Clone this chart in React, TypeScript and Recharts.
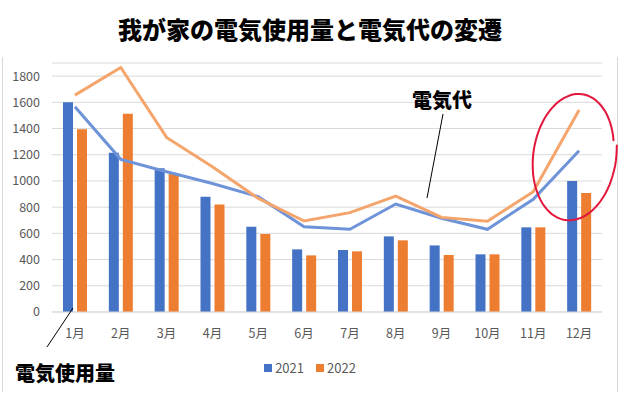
import { ComposedChart, Bar, Line, XAxis, YAxis, CartesianGrid, Legend } from 'recharts'

const MONTHS = ['1月', '2月', '3月', '4月', '5月', '6月', '7月', '8月', '9月', '10月', '11月', '12月']

// 電気使用量 (kWh)
const USAGE_2021 = [1600, 1215, 1096, 880, 651, 478, 473, 577, 508, 440, 646, 1000]
const USAGE_2022 = [1395, 1513, 1055, 821, 595, 432, 463, 547, 435, 440, 646, 908]

// 電気代
const COST_2021 = [1566, 1165, 1070, 981, 880, 651, 631, 824, 715, 631, 860, 1231]
const COST_2022 = [1655, 1866, 1332, 1108, 867, 694, 758, 885, 722, 692, 918, 1541]

const Y_TICKS = [0, 200, 400, 600, 800, 1000, 1200, 1400, 1600, 1800]

const FONT = '"Noto Sans CJK JP", "Noto Sans", sans-serif'
const GRAY = '#595959'

const chartData = MONTHS.map((month, i) => ({
  month,
  usage2021: USAGE_2021[i],
  usage2022: USAGE_2022[i],
  cost2021: COST_2021[i],
  cost2022: COST_2022[i],
}))

// 手書き風の赤い丸（少し渦を巻いて閉じきらない）
function circlePath() {
  const cx = 574
  const cy = 156
  const rx = 41
  const ry = 64
  const rot = (8 * Math.PI) / 180
  const pts: string[] = []
  const steps = 80
  const start = -0.25
  const end = 2 * Math.PI - 0.35
  for (let k = 0; k <= steps; k++) {
    const t = start + ((end - start) * k) / steps
    const f = 1.03 - (0.07 * k) / steps
    const ex = rx * f * Math.cos(t)
    const ey = ry * f * Math.sin(t)
    const x = cx + ex * Math.cos(rot) - ey * Math.sin(rot)
    const y = cy + ex * Math.sin(rot) + ey * Math.cos(rot)
    pts.push(`${k === 0 ? 'M' : 'L'}${x.toFixed(1)},${y.toFixed(1)}`)
  }
  return pts.join(' ')
}

function LegendContent() {
  const items = [
    { label: '2021', color: '#4472C4' },
    { label: '2022', color: '#ED7D31' },
  ]
  return (
    <div style={{ display: 'flex', justifyContent: 'center', gap: 12, fontFamily: FONT, fontSize: 13, color: GRAY }}>
      {items.map((item) => (
        <span key={item.label} style={{ display: 'inline-flex', alignItems: 'center' }}>
          <span style={{ display: 'inline-block', width: 8, height: 8, background: item.color, marginRight: 3 }} />
          {item.label}
        </span>
      ))}
    </div>
  )
}

export default function App() {
  return (
    <div style={{ position: 'relative', width: 620, height: 400, background: '#fff' }}>
      <style>{'body{margin:0}'}</style>
      <ComposedChart
        width={620}
        height={400}
        data={chartData}
        margin={{ top: 63, right: 18, left: 0, bottom: 0 }}
        barGap={4}
      >
        <CartesianGrid vertical={false} stroke="#D9D9D9" />
        <XAxis
          dataKey="month"
          height={69}
          axisLine={{ stroke: '#D9D9D9' }}
          tickLine={false}
          tickMargin={11}
          tick={{ fill: GRAY, fontSize: 12.5, fontFamily: FONT }}
        />
        <YAxis
          width={52}
          domain={[0, 1900]}
          ticks={Y_TICKS}
          axisLine={false}
          tickLine={false}
          tickMargin={6}
          tick={{ fill: GRAY, fontSize: 12.5, fontFamily: FONT }}
        />
        <Legend
          layout="vertical"
          align="center"
          verticalAlign="bottom"
          content={() => <LegendContent />}
          wrapperStyle={{ top: 358, left: 0, bottom: 'auto', width: 620 }}
        />
        <Bar dataKey="usage2021" name="2021" fill="#4472C4" barSize={10} isAnimationActive={false} />
        <Bar dataKey="usage2022" name="2022" fill="#ED7D31" barSize={10} isAnimationActive={false} />
        <Line
          dataKey="cost2021"
          type="linear"
          stroke="#6E93D8"
          strokeWidth={3}
          dot={false}
          legendType="none"
          isAnimationActive={false}
        />
        <Line
          dataKey="cost2022"
          type="linear"
          stroke="#F4A56C"
          strokeWidth={3}
          dot={false}
          legendType="none"
          isAnimationActive={false}
        />
      </ComposedChart>

      <svg
        width={620}
        height={400}
        style={{ position: 'absolute', left: 0, top: 0, pointerEvents: 'none' }}
        fontFamily={FONT}
      >
        {/* 枠線 */}
        <line x1={2.5} y1={57} x2={2.5} y2={392} stroke="#D9D9D9" />
        <line x1={617.5} y1={57} x2={617.5} y2={392} stroke="#D9D9D9" />

        <text x={310} y={28} textAnchor="middle" dominantBaseline="central" fontSize={24} fontWeight={900} fill="#000">
          我が家の電気使用量と電気代の変遷
        </text>

        <text x={442} y={99} textAnchor="middle" dominantBaseline="central" fontSize={20} fontWeight={900} fill="#000">
          電気代
        </text>
        <line x1={443} y1={114} x2={427} y2={198} stroke="#000" strokeWidth={1} />

        <text x={65} y={372} textAnchor="middle" dominantBaseline="central" fontSize={20} fontWeight={900} fill="#000">
          電気使用量
        </text>
        <line x1={73} y1={308} x2={47} y2={347} stroke="#000" strokeWidth={1} />

        <path d={circlePath()} fill="none" stroke="#E3173B" strokeWidth={2} strokeLinecap="round" />
      </svg>
    </div>
  )
}
